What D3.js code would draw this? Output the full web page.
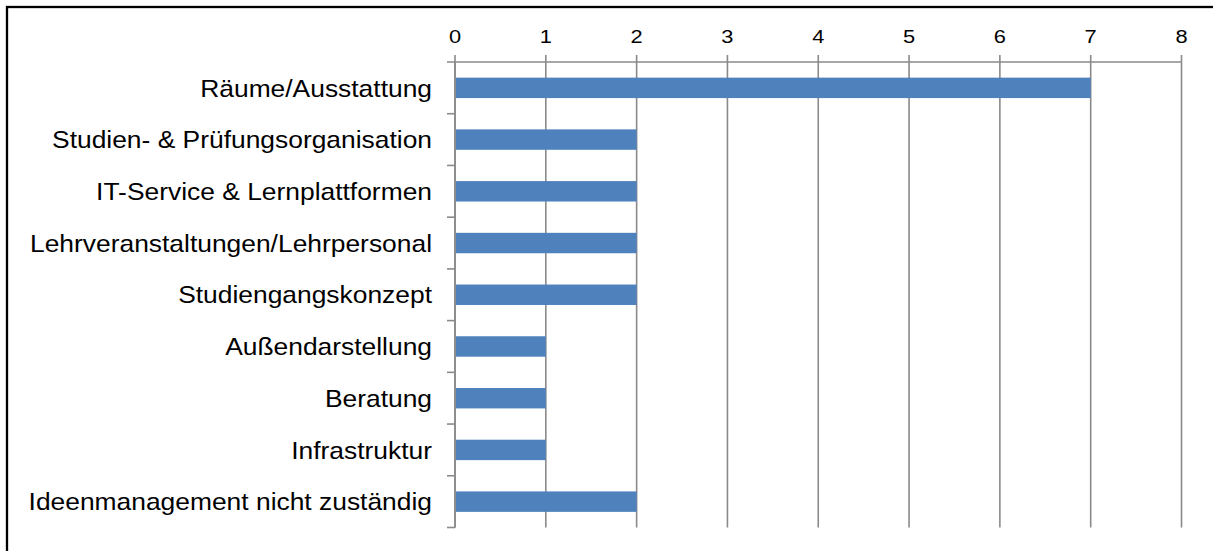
<!DOCTYPE html>
<html>
<head>
<meta charset="utf-8">
<script src="https://cdn.jsdelivr.net/npm/d3@7"></script>
<style>
  html, body { margin: 0; padding: 0; background: #fff; }
  svg { display: block; }
  text { font-family: "Liberation Sans", Arial, sans-serif; fill: #000; }
</style>
</head>
<body>
<svg id="chart" width="1213" height="551"></svg>
<script>
const categories = [
  "Räume/Ausstattung",
  "Studien- & Prüfungsorganisation",
  "IT-Service & Lernplattformen",
  "Lehrveranstaltungen/Lehrpersonal",
  "Studiengangskonzept",
  "Außendarstellung",
  "Beratung",
  "Infrastruktur",
  "Ideenmanagement nicht zuständig"
];
const values = [7, 2, 2, 2, 2, 1, 1, 1, 2];
const tickValues = [0, 1, 2, 3, 4, 5, 6, 7, 8];

const svg = d3.select("#chart");
const gridColor = "#8a8a8a";
const barColor = "#4f81bd";

// outer frame (only top/left visible in reference)
svg.append("rect")
  .attr("x", 7).attr("y", 7)
  .attr("width", 1220).attr("height", 560)
  .attr("fill", "none").attr("stroke", "#000").attr("stroke-width", 2.3);

const x = d3.scaleLinear().domain([0, 8]).range([455, 1181.5]);
const y = d3.scaleBand().domain(categories).range([62, 527.5])
  .paddingInner(0.605).paddingOuter(0.3025);

// gridlines
svg.append("g").selectAll("line").data(tickValues).join("line")
  .attr("x1", d => x(d)).attr("x2", d => x(d))
  .attr("y1", 55).attr("y2", 527.5)
  .attr("stroke", gridColor).attr("stroke-width", 1.6);

// top axis line
svg.append("line")
  .attr("x1", 447).attr("x2", x(8))
  .attr("y1", 62).attr("y2", 62)
  .attr("stroke", gridColor).attr("stroke-width", 1.6);

// left axis category-boundary ticks
const bounds = d3.range(categories.length + 1).map(i => 62 + i * (465.5 / categories.length));
svg.append("g").selectAll("line").data(bounds.slice(1)).join("line")
  .attr("x1", 447).attr("x2", 455)
  .attr("y1", d => d).attr("y2", d => d)
  .attr("stroke", gridColor).attr("stroke-width", 1.6);

// bars
svg.append("g").selectAll("rect").data(values).join("rect")
  .attr("x", x(0) + 0.8)
  .attr("y", (d, i) => y(categories[i]))
  .attr("width", d => x(d) - x(0) - 0.8)
  .attr("height", y.bandwidth())
  .attr("fill", barColor);

// redraw zero axis over bars
svg.append("line")
  .attr("x1", x(0)).attr("x2", x(0))
  .attr("y1", 62).attr("y2", 527.5)
  .attr("stroke", gridColor).attr("stroke-width", 1.6);

// tick labels
svg.append("g").selectAll("g").data(tickValues).join("g")
  .attr("transform", d => `translate(${x(d)},43) scale(1.15,1)`)
  .append("text")
  .attr("text-anchor", "middle")
  .attr("font-size", 19)
  .text(d => d);

// category labels
svg.append("g").selectAll("g").data(categories).join("g")
  .attr("transform", d => `translate(432,${y(d) + y.bandwidth() / 2}) scale(1.1,1)`)
  .append("text")
  .attr("text-anchor", "end")
  .attr("dy", "0.36em")
  .attr("font-size", 24)
  .text(d => d);
</script>
</body>
</html>
